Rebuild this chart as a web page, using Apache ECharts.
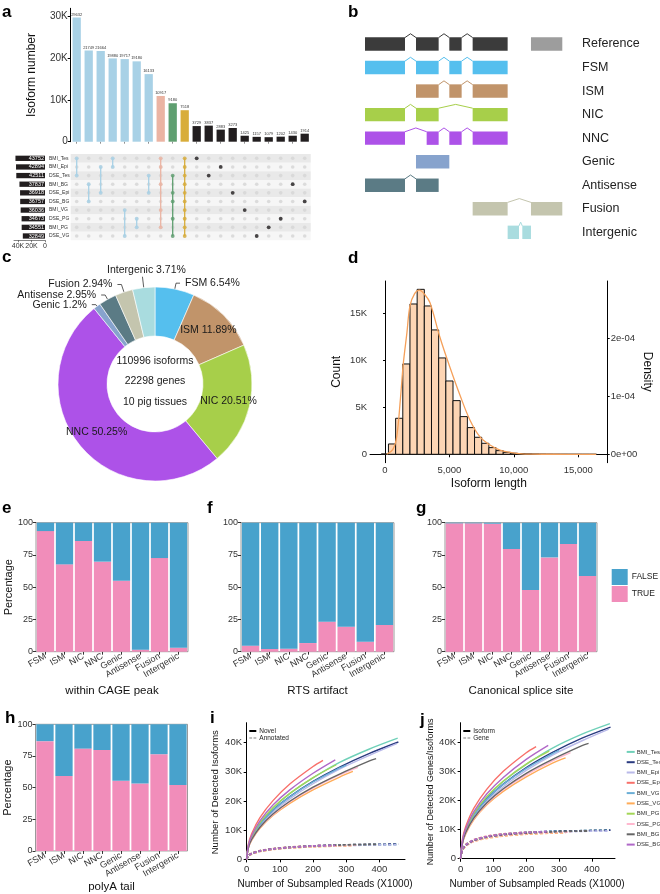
<!DOCTYPE html>
<html><head><meta charset="utf-8">
<script src="https://cdn.jsdelivr.net/npm/echarts@6/dist/echarts.min.js"></script>
<style>html,body{margin:0;padding:0;background:#fff}#c{width:660px;height:894px}</style>
</head><body><div id="c"></div>
<script>
// ================= DATA =================
// (a) UpSet
const intersectionSizes = [29632,21749,21664,19880,19717,19180,16133,10917,9180,7518,3729,3837,2883,3273,1425,1157,1079,1202,1430,1914];
const intersectionGroups = ['pair','pair','pair','pair','pair','pair','pair','BMI','DSE','all','unique','unique','unique','unique','unique','unique','unique','unique','unique','unique'];
const setNames = ['BMI_Tes','BMI_Epi','DSE_Tes','BMI_BG','DSE_Epi','DSE_BG','BMI_VG','DSE_PG','BMI_PG','DSE_VG'];
const setSizes = [43752,42894,42511,37837,36918,36757,36036,34673,34551,32849];
const intersectionMembers = [
  ['BMI_Tes','DSE_Tes'],
  ['BMI_BG','DSE_BG'],
  ['BMI_Epi','DSE_Epi'],
  ['BMI_Tes','BMI_Epi'],
  ['BMI_VG','DSE_VG'],
  ['DSE_PG','BMI_PG'],
  ['DSE_Tes','DSE_Epi'],
  ['BMI_Tes','BMI_Epi','BMI_BG','BMI_VG','BMI_PG'],
  ['DSE_Tes','DSE_Epi','DSE_BG','DSE_PG','DSE_VG'],
  ['BMI_Tes','BMI_Epi','DSE_Tes','BMI_BG','DSE_Epi','DSE_BG','BMI_VG','DSE_PG','BMI_PG','DSE_VG'],
  ['BMI_Tes'],['DSE_Tes'],['BMI_Epi'],['DSE_Epi'],['BMI_VG'],['DSE_VG'],['BMI_PG'],['DSE_PG'],['BMI_BG'],['DSE_BG']
];
const upsetAxisTicks = [0,10000,20000,30000];
const setSizeTicks = [0,20000,40000];

// (b) transcript structure schematic (exon start/end in schematic units)
const structureRows = ['Reference','FSM','ISM','NIC','NNC','Genic','Antisense','Fusion','Intergenic'];
const structureExons = [
  [[105,225],[258,326],[358,395],[428,533]],
  [[105,225],[258,326],[358,395],[428,533]],
  [[258,326],[358,395],[428,533]],
  [[105,225],[258,326],[428,533]],
  [[105,225],[290,326],[358,395],[428,533]],
  [[258,358]],
  [[105,225],[258,326]],
  [[428,533],[603,697]],
  [[533,567],[577,603]]
];
const referenceUnspliced = [603,697];

// (c) donut
const classNames = ['FSM','ISM','NIC','NNC','Genic','Antisense','Fusion','Intergenic'];
const classPercent = [6.54,11.89,20.51,50.25,1.2,2.95,2.94,3.71];
const donutCenterLines = ['110996 isoforms','22298 genes','10 pig tissues'];

// (d) histogram of isoform length
const histBinStart = -290;
const histBinWidth = 557;
const histCounts = [40,1100,3830,9610,15990,17550,15780,13230,10250,7800,5710,4010,2840,1810,1170,710,390,210,110,70,45,30,20,12,8,5,3,2,1,1];
const densityX = [130,600,908,1200,1421,1700,1941,2300,2663,3100,3494,4270,5047,5823,6600,7376,8152,8929,10225,11260,13000,16400];
const densityY = [0,8.1e-6,3.03e-5,9.7e-5,1.57e-4,2.10e-4,2.57e-4,2.78e-4,2.84e-4,2.76e-4,2.62e-4,2.02e-4,1.50e-4,1.02e-4,5.9e-5,3.0e-5,1.6e-5,7.4e-6,1.6e-6,3e-7,5e-8,0];
const countTicks = [0,5000,10000,15000];
const densityTicks = [0,1e-4,2e-4];
const densityTickLabels = ['0e+00','1e-04','2e-04'];
const lengthTicks = [0,5000,10000,15000];

// (e-h) percentage TRUE per class
const cagePeakTrue = [93.5,67.7,85.8,69.8,55.0,1.6,72.6,3.1];
const rtsArtifactTrue = [4.7,2.1,2.3,6.7,23.3,19.4,7.8,20.7];
const canonicalSpliceTrue = [99.5,99.5,99.2,79.6,47.8,73.1,83.5,58.7];
const polyATailTrue = [86.7,59.2,80.8,79.7,55.4,53.3,76.4,52.1];

// (i-j) saturation curves, values in thousands
const sampleNames = ['BMI_Tes','DSE_Tes','BMI_Epi','DSE_Epi','BMI_VG','DSE_VG','BMI_PG','DSE_PG','BMI_BG','DSE_BG'];
const sampleMaxReads = [455,457,452,230,300,320,270,335,390,267];
const readGrid = [0,5,15,40,80,130,200,280,370];
const novelIsoforms = [
  [0,4.4,7.6,12.4,17.6,22.5,27.9,33.2,37.8,41.5],
  [0,4.2,7.3,11.9,16.9,21.5,26.7,31.6,36.3,40.2],
  [0,4.0,7.0,11.4,16.2,20.7,25.9,30.9,35.6,39.6],
  [0,5.1,8.8,14.3,20.2,25.8,31.8,33.9],
  [0,4.2,7.3,11.9,16.8,21.4,26.5,31.3,32.3],
  [0,3.8,6.5,10.6,15.1,19.2,23.8,28.2,30.1],
  [0,4.5,7.7,12.6,17.8,22.6,28.0,32.4],
  [0,3.9,6.7,10.9,15.4,19.7,24.4,28.9,31.5],
  [0,3.9,6.8,11.0,15.6,19.9,24.7,29.2,33.7,34.5],
  [0,4.7,8.1,13.2,18.7,23.8,29.5,34.1]
];
const annotatedIsoforms = [
  [0,1.1,1.9,2.8,3.5,4.0,4.5,4.8,5.0,5.1],
  [0,1.2,2.0,2.9,3.6,4.1,4.6,4.9,5.1,5.2],
  [0,1.1,1.9,2.8,3.5,4.0,4.4,4.7,4.9,5.0],
  [0,1.3,2.1,3.0,3.7,4.2,4.6,4.7],
  [0,1.2,2.0,2.9,3.6,4.1,4.5,4.8,4.9],
  [0,1.1,1.8,2.7,3.4,3.9,4.3,4.6,4.7],
  [0,1.2,2.0,2.9,3.6,4.1,4.5,4.8],
  [0,1.1,1.9,2.8,3.5,4.0,4.4,4.7,4.9],
  [0,1.2,2.0,2.9,3.6,4.1,4.6,4.9,5.1,5.1],
  [0,1.2,2.0,2.9,3.6,4.1,4.6,4.8]
];
const totalIsoforms = [
  [0,5.5,9.5,15.2,21.1,26.5,32.4,38.0,42.8,46.4],
  [0,5.4,9.3,14.8,20.5,25.6,31.3,36.5,41.4,45.2],
  [0,5.1,8.9,14.2,19.7,24.7,30.3,35.6,40.5,44.5],
  [0,6.4,10.9,17.3,23.9,30.0,36.4,38.5],
  [0,5.4,9.3,14.8,20.4,25.5,31.0,36.1,37.2],
  [0,4.9,8.3,13.3,18.5,23.1,28.1,32.8,34.6],
  [0,5.7,9.7,15.5,21.4,26.7,32.5,36.9],
  [0,5.0,8.6,13.7,18.9,23.7,28.8,33.6,36.4],
  [0,5.1,8.8,13.9,19.2,24.0,29.3,34.1,38.8,39.6],
  [0,5.9,10.1,16.1,22.3,27.9,34.1,38.9]
];
const detectedGenes = [
  [0,2.9,4.5,6.2,7.4,8.2,8.9,9.3,9.6,9.8],
  [0,3.0,4.6,6.3,7.5,8.3,9.0,9.4,9.6,9.8],
  [0,2.8,4.4,6.1,7.3,8.1,8.7,9.1,9.4,9.5],
  [0,3.2,4.8,6.5,7.7,8.5,9.0,9.2],
  [0,3.0,4.6,6.3,7.5,8.3,8.9,9.3,9.4],
  [0,2.7,4.2,5.9,7.0,7.8,8.4,8.8,8.9],
  [0,3.0,4.6,6.3,7.5,8.3,8.9,9.2],
  [0,2.8,4.3,6.0,7.2,8.0,8.6,9.0,9.1],
  [0,2.9,4.5,6.2,7.4,8.2,8.8,9.2,9.5,9.5],
  [0,3.1,4.7,6.4,7.6,8.4,9.0,9.3]
];
const readTicks = [0,100,200,300,400];
const detectTicks = [0,10,20,30,40];

// ================= STYLE =================
const FONT = "'Liberation Sans', Arial, Helvetica, sans-serif";
const groupColors = {pair:'#a8d1e6', BMI:'#ebb4a3', DSE:'#5f9f70', all:'#d8ad3a', unique:'#221e1f'};
const classColors = {Reference:'#3b3b3b', FSM:'#55bfee', ISM:'#c1946a', NIC:'#a7cf4a', NNC:'#ad52e8', Genic:'#87a3cd', Antisense:'#5b7b85', Fusion:'#c4c5ae', Intergenic:'#a9dcdf'};
const sampleColors = {BMI_Tes:'#6fd0b8', DSE_Tes:'#2a3b80', BMI_Epi:'#b9b9e9', DSE_Epi:'#f8706a', BMI_VG:'#6aaed6', DSE_VG:'#ffac58', BMI_PG:'#a3d656', DSE_PG:'#ffb8cf', BMI_BG:'#666666', DSE_BG:'#b068c8'};
const TRUE_C = '#f18dba', FALSE_C = '#48a2cc';
const DASH_ICON = 'path://M0,0H4V1H0Z M6,0H10V1H6Z';

const kfmt = v => v === 0 ? '0' : (v/1000) + 'K';

// ================= OPTION =================
const grid = [
  {left:70.7, top:8.3, width:240, height:133.4},
  {left:70.7, top:154, width:240, height:86.3},
  {left:14, top:154, width:31, height:86.3},
  {left:365, top:32.2, width:197.3, height:211.9},
  {left:370, top:281, width:237.7, height:181.7},
  {left:36, top:522.7, width:152, height:129, show:true, borderColor:'#808080', borderWidth:0.8},
  {left:241, top:522.7, width:153, height:129, show:true, borderColor:'#808080', borderWidth:0.8},
  {left:445, top:522.7, width:152, height:129, show:true, borderColor:'#808080', borderWidth:0.8},
  {left:35.5, top:724.3, width:152, height:130, show:true, borderColor:'#808080', borderWidth:0.8},
  {left:245, top:722.7, width:160, height:139},
  {left:459, top:722.7, width:156, height:138.3}
];

const hidden = {axisLine:{show:false}, axisTick:{show:false}, axisLabel:{show:false}, splitLine:{show:false}};
const blackLine = {show:true, lineStyle:{color:'#000', width:1}};
const intersectionIdx = intersectionSizes.map((v,i)=>'I'+i);

function pctX(gi, name, gap){
  return {type:'category', gridIndex:gi, data:classNames, axisLine:{show:false},
    axisTick:{show:true, alignWithLabel:true, length:3, lineStyle:{color:'#333'}},
    axisLabel:{interval:0, rotate:30, fontSize:9, color:'#333', margin:4},
    name:name, nameLocation:'middle', nameGap:gap, nameTextStyle:{fontSize:11.5, color:'#111'}};
}
function pctY(gi, name){
  return {type:'value', gridIndex:gi, min:0, max:100, interval:25, axisLine:{show:false},
    axisTick:{show:true, length:3, lineStyle:{color:'#333'}}, splitLine:{show:false},
    axisLabel:{fontSize:9, color:'#333', margin:3},
    name:name||'', nameLocation:'middle', nameGap:22, nameTextStyle:{fontSize:11, color:'#111'}};
}

const xAxis = [
  {type:'category', gridIndex:0, data:intersectionIdx, offset:3, axisLine:{show:false}, axisLabel:{show:false},
    axisTick:{show:true, alignWithLabel:true, length:2, lineStyle:{color:'#444', width:0.6}}},
  Object.assign({type:'category', gridIndex:1, data:intersectionIdx}, hidden),
  {type:'value', gridIndex:2, inverse:true, min:0, max:45900, splitLine:{show:false},
    axisLine:{show:true, lineStyle:{color:'#333', width:0.6}},
    axisTick:{show:true, length:2, customValues:setSizeTicks, lineStyle:{color:'#333', width:0.6}},
    axisLabel:{customValues:setSizeTicks, formatter:kfmt, fontSize:7, margin:2, color:'#333'}},
  Object.assign({type:'value', gridIndex:3, min:105, max:697}, hidden),
  {type:'value', gridIndex:4, min:-1165, max:17290, splitLine:{show:false}, axisLine:blackLine,
    axisTick:{show:true, length:3, customValues:lengthTicks, lineStyle:{color:'#000'}},
    axisLabel:{customValues:lengthTicks, formatter:v=>v.toLocaleString('en-US'), fontSize:9.5, color:'#333', margin:3},
    name:'Isoform length', nameLocation:'middle', nameGap:15, nameTextStyle:{fontSize:12, color:'#111'}},
  pctX(5,'within CAGE peak',33),
  pctX(6,'RTS artifact',33),
  pctX(7,'Canonical splice site',33),
  pctX(8,'polyA tail',29),
  {type:'value', gridIndex:9, min:-5, max:477, splitLine:{show:false}, axisLine:blackLine,
    axisTick:{show:true, length:3, customValues:readTicks, lineStyle:{color:'#000'}},
    axisLabel:{customValues:readTicks, fontSize:9.5, color:'#333', margin:3},
    name:'Number of Subsampled Reads (X1000)', nameLocation:'middle', nameGap:18, nameTextStyle:{fontSize:10, color:'#111'}},
  {type:'value', gridIndex:10, min:-5, max:470.6, splitLine:{show:false}, axisLine:blackLine,
    axisTick:{show:true, length:3, customValues:readTicks, lineStyle:{color:'#000'}},
    axisLabel:{customValues:readTicks, fontSize:9.5, color:'#333', margin:3},
    name:'Number of Subsampled Reads (X1000)', nameLocation:'middle', nameGap:18, nameTextStyle:{fontSize:10, color:'#111'}}
];

const countPerDensity = 6.15e7;
const dYmin = -894, dYmax = 18436;
const yAxis = [
  {type:'value', gridIndex:0, min:0, max:31840, splitLine:{show:false}, axisLine:blackLine,
    axisTick:{show:true, length:3, customValues:upsetAxisTicks, lineStyle:{color:'#000'}},
    axisLabel:{customValues:upsetAxisTicks, formatter:kfmt, fontSize:10, color:'#333', margin:3},
    name:'Isoform number', nameLocation:'middle', nameGap:33, nameTextStyle:{fontSize:12, color:'#111'}},
  {type:'category', gridIndex:1, data:setNames, inverse:true, axisLine:{show:false}, axisTick:{show:false},
    splitArea:{show:true, areaStyle:{color:['#e9e9e9','#f6f6f6']}},
    axisLabel:{show:true, align:'left', margin:21.7, fontSize:5, color:'#333'}},
  Object.assign({type:'category', gridIndex:2, data:setNames, inverse:true}, hidden),
  {type:'category', gridIndex:3, data:structureRows, inverse:true, position:'right', axisLine:{show:false}, axisTick:{show:false},
    axisLabel:{margin:19.7, fontSize:12.5, color:'#222'}},
  {type:'value', gridIndex:4, min:dYmin, max:dYmax, splitLine:{show:false}, axisLine:blackLine,
    axisTick:{show:true, length:2, customValues:countTicks, lineStyle:{color:'#000'}},
    axisLabel:{customValues:countTicks, formatter:kfmt, fontSize:9.5, color:'#333', margin:3},
    name:'Count', nameLocation:'middle', nameGap:27, nameTextStyle:{fontSize:12, color:'#111'}},
  {type:'value', gridIndex:4, position:'right', min:dYmin/countPerDensity, max:dYmax/countPerDensity, splitLine:{show:false}, axisLine:blackLine,
    axisTick:{show:true, length:2, customValues:densityTicks, lineStyle:{color:'#000'}},
    axisLabel:{customValues:densityTicks, formatter:v=>densityTickLabels[densityTicks.findIndex(t=>Math.abs(t-v)<1e-9)] || '', fontSize:9.5, color:'#333', margin:3},
    name:'Density', nameLocation:'middle', nameRotate:-90, nameGap:34, nameTextStyle:{fontSize:12, color:'#111'}},
  pctY(5,'Percentage'), pctY(6), pctY(7), pctY(8,'Percentage'),
  {type:'value', gridIndex:9, min:-0.8, max:46.8, splitLine:{show:false}, axisLine:blackLine,
    axisTick:{show:true, length:3, customValues:detectTicks, lineStyle:{color:'#000'}},
    axisLabel:{customValues:detectTicks, formatter:v=>v===0?'0':v+'K', fontSize:9.5, color:'#333', margin:3},
    name:'Number of Detected Isoforms', nameLocation:'middle', nameGap:25, nameTextStyle:{fontSize:9.5, color:'#111'}},
  {type:'value', gridIndex:10, min:-0.8, max:46.7, splitLine:{show:false}, axisLine:blackLine,
    axisTick:{show:true, length:3, customValues:detectTicks, lineStyle:{color:'#000'}},
    axisLabel:{customValues:detectTicks, formatter:v=>v===0?'0':v+'K', fontSize:9.5, color:'#333', margin:3},
    name:'Number of Detected Genes/Isoforms', nameLocation:'middle', nameGap:22.5, nameTextStyle:{fontSize:9, color:'#111'}}
];

const series = [];
// (a) intersection bars
series.push({type:'bar', xAxisIndex:0, yAxisIndex:0, barWidth:'69%',
  data:intersectionSizes.map((v,i)=>({value:v, itemStyle:{color:groupColors[intersectionGroups[i]]}})),
  label:{show:true, position:'top', fontSize:4, color:'#333', distance:1}});
// matrix background dots
const bgDots = [];
intersectionSizes.forEach((v,c)=>setNames.forEach((s,r)=>bgDots.push([c,r])));
series.push({type:'scatter', xAxisIndex:1, yAxisIndex:1, data:bgDots, symbolSize:3.6, itemStyle:{color:'#d4d4d4'}, z:2});
// connectors
const connectors = intersectionMembers.map((m,c)=>{
  const rows = m.map(s=>setNames.indexOf(s));
  return [c, Math.min(...rows), Math.max(...rows)];
}).filter(d=>d[1]!==d[2]);
series.push({type:'custom', xAxisIndex:1, yAxisIndex:1, z:3, data:connectors,
  renderItem:(params, api)=>{
    const c = api.value(0);
    const p0 = api.coord([c, api.value(1)]), p1 = api.coord([c, api.value(2)]);
    return {type:'line', shape:{x1:p0[0], y1:p0[1], x2:p1[0], y2:p1[1]},
      style:{stroke:groupColors[intersectionGroups[c]], lineWidth:1.3}};
  }});
const memberDots = [];
intersectionMembers.forEach((m,c)=>m.forEach(s=>memberDots.push({value:[c, setNames.indexOf(s)], itemStyle:{color:groupColors[intersectionGroups[c]]}})));
series.push({type:'scatter', xAxisIndex:1, yAxisIndex:1, data:memberDots, symbolSize:3.8, z:4});
// set sizes
series.push({type:'bar', xAxisIndex:2, yAxisIndex:2, barWidth:5.3, data:setSizes, itemStyle:{color:'#221e1f'},
  label:{show:true, position:'insideRight', color:'#fff', fontSize:5.5, distance:1}});

// (b) schematic
series.push({type:'custom', xAxisIndex:3, yAxisIndex:3,
  data:structureRows.map((n,i)=>[structureExons[i][0][0], i]),
  renderItem:(params, api)=>{
    const i = params.dataIndex;
    const color = classColors[structureRows[i]];
    const h = api.size([0,1])[1]*0.57;
    const yc = api.coord([105, i])[1];
    const top = yc - h/2;
    const ex = structureExons[i];
    const children = [];
    ex.forEach(([a,b])=>{
      const xa = api.coord([a,i])[0], xb = api.coord([b,i])[0];
      children.push({type:'rect', shape:{x:xa, y:top, width:xb-xa, height:h}, style:{fill:color}});
    });
    for(let k=1;k<ex.length;k++){
      const xa = api.coord([ex[k-1][1],i])[0], xb = api.coord([ex[k][0],i])[0];
      children.push({type:'polyline', shape:{points:[[xa,top+0.3],[(xa+xb)/2, top-3.5],[xb,top+0.3]]}, style:{stroke:color, lineWidth:1, fill:null}});
    }
    if(i===0){
      const xa = api.coord([referenceUnspliced[0],i])[0], xb = api.coord([referenceUnspliced[1],i])[0];
      children.push({type:'rect', shape:{x:xa, y:top, width:xb-xa, height:h}, style:{fill:'#9d9d9d'}});
    }
    return {type:'group', children};
  }});

// (c) donut
const insideSet = ['ISM','NIC','NNC'];
const lineLen = {FSM:[6,4], Genic:[2,4], Antisense:[5,4], Fusion:[8,4], Intergenic:[11,0]};
series.push({type:'pie', center:[155,384], radius:[48,97], startAngle:90, clockwise:true, avoidLabelOverlap:false,
  itemStyle:{borderColor:'#fff', borderWidth:0.6},
  label:{formatter:'{b} {c}%', fontSize:10.5, color:'#1a1a1a'},
  labelLine:{lineStyle:{color:'#333', width:0.8}},
  data:classNames.map((n,i)=>{
    const o = {name:n, value:classPercent[i], itemStyle:{color:classColors[n]}};
    if(insideSet.includes(n)) o.label = {position:'inside'};
    else o.labelLine = {length:lineLen[n][0], length2:lineLen[n][1]};
    return o;
  }),
  labelLayout:(p)=>{
    if(classNames[p.dataIndex]==='Intergenic' && p.labelLinePoints){
      const q = p.labelLinePoints;
      return {x:q[1][0]+4, y:q[1][1]-7, align:'center', verticalAlign:'middle', labelLinePoints:[q[0],q[1],q[1]]};
    }
  }
});

// (d) histogram + density
series.push({type:'custom', xAxisIndex:4, yAxisIndex:4, z:2,
  data:histCounts.map((c,k)=>[histBinStart+k*histBinWidth, histBinStart+(k+1)*histBinWidth, c]),
  renderItem:(params, api)=>{
    const p0 = api.coord([api.value(0), api.value(2)]);
    const p1 = api.coord([api.value(1), 0]);
    return {type:'rect', shape:{x:p0[0], y:p0[1], width:p1[0]-p0[0], height:p1[1]-p0[1]},
      style:{fill:'#fdd5b4', stroke:'#111', lineWidth:1}};
  }});
series.push({type:'line', xAxisIndex:4, yAxisIndex:5, z:5, smooth:0.35, symbol:'none',
  data:densityX.map((x,i)=>[x, densityY[i]]), lineStyle:{color:'#f5a05a', width:1.3}});

// (e-h) stacked percentage bars
[[5,cagePeakTrue],[6,rtsArtifactTrue],[7,canonicalSpliceTrue],[8,polyATailTrue]].forEach(([gi,arr])=>{
  series.push({type:'bar', name:'TRUE', xAxisIndex:gi, yAxisIndex:gi+1, stack:'s'+gi, barCategoryGap:'9%', data:arr, itemStyle:{color:TRUE_C}});
  series.push({type:'bar', name:'FALSE', xAxisIndex:gi, yAxisIndex:gi+1, stack:'s'+gi, barCategoryGap:'9%', data:arr.map(v=>+(100-v).toFixed(2)), itemStyle:{color:FALSE_C}});
});

// (i-j) saturation curves
function readsFor(s){ const end = sampleMaxReads[s]; return readGrid.filter(x=>x<end).concat([end]); }
function pts(s, arr){ const xs = readsFor(s); return arr[s].map((v,k)=>[xs[k], v]); }
const SM = 0.3;
sampleNames.forEach((n,s)=>{
  const col = sampleColors[n];
  series.push({type:'line', name:'i-'+n, xAxisIndex:9, yAxisIndex:10, symbol:'none', smooth:SM, data:pts(s,annotatedIsoforms), lineStyle:{color:col, width:1.8, type:[3,2]}, itemStyle:{color:col}});
  series.push({type:'line', name:'j-gene-'+n, xAxisIndex:10, yAxisIndex:11, symbol:'none', smooth:SM, data:pts(s,detectedGenes), lineStyle:{color:col, width:1.8, type:[3,2]}, itemStyle:{color:col}});
});
sampleNames.forEach((n,s)=>{
  const col = sampleColors[n];
  series.push({type:'line', name:'i-novel-'+n, xAxisIndex:9, yAxisIndex:10, symbol:'none', smooth:SM, data:pts(s,novelIsoforms), lineStyle:{color:col, width:1.4}, itemStyle:{color:col}});
  series.push({type:'line', name:n, xAxisIndex:10, yAxisIndex:11, symbol:'none', smooth:SM, data:pts(s,totalIsoforms), lineStyle:{color:col, width:1.4}, itemStyle:{color:col}});
});
// legend-only line keys
[['Novel','solid',9,10],['Annotated',[2,1.5],9,10],['Isoform','solid',10,11],['Gene',[2,1.5],10,11]].forEach(([n,t,xi,yi])=>{
  series.push({type:'line', name:n, xAxisIndex:xi, yAxisIndex:yi, symbol:'none', data:[], lineStyle:{color:'#000', width:1.5, type:t}, itemStyle:{color:'#000'}});
});

const smallLegend = (names, left, top) => ({
  data:[{name:names[0], icon:'rect'}, {name:names[1], icon:DASH_ICON}],
  left, top, orient:'vertical', itemWidth:7, itemHeight:2, itemGap:0, padding:0, selectedMode:false,
  textStyle:{fontSize:6.5, color:'#222', lineHeight:6, padding:[0,0,0,-2]}
});
const legend = [
  {data:['FALSE','TRUE'], left:611.7, top:569, orient:'vertical', icon:'rect', itemWidth:16, itemHeight:16, itemGap:1, padding:0, selectedMode:false, textStyle:{fontSize:8.5, color:'#222', padding:[0,0,0,-1]}},
  smallLegend(['Novel','Annotated'], 249.3, 727.5),
  smallLegend(['Isoform','Gene'], 463.3, 727.5),
  {data:sampleNames.map(n=>({name:n, icon:'rect'})), left:626.7, top:748, orient:'vertical', itemWidth:8, itemHeight:2, itemGap:2.5, padding:0, selectedMode:false, textStyle:{fontSize:6, color:'#333', lineHeight:7.8, padding:[0,0,0,-3]}}
];

const letters = [['a',2,16.7],['b',348,16.7],['c',2,261.7],['d',348,263.3],['e',2,512.7],['f',207,513.3],['g',416,513.3],['h',5,722.7],['i',210,722.7],['j',420,725]];
const graphic = letters.map(([t,x,y])=>({type:'text', left:x, top:y-13, style:{text:t, font:'bold 17px '+FONT, fill:'#000'}}))
  .concat(donutCenterLines.map((t,k)=>({type:'text', x:155, y:360.7+k*20.7, style:{text:t, font:'10.5px '+FONT, fill:'#1a1a1a', align:'center', verticalAlign:'middle'}})));

const option = {animation:false, backgroundColor:'#fff', textStyle:{fontFamily:FONT},
  grid, xAxis, yAxis, series, legend, graphic};
const chart = echarts.init(document.getElementById('c'), null, {renderer:'canvas', width:660, height:894});
chart.setOption(option);
</script></body></html>
